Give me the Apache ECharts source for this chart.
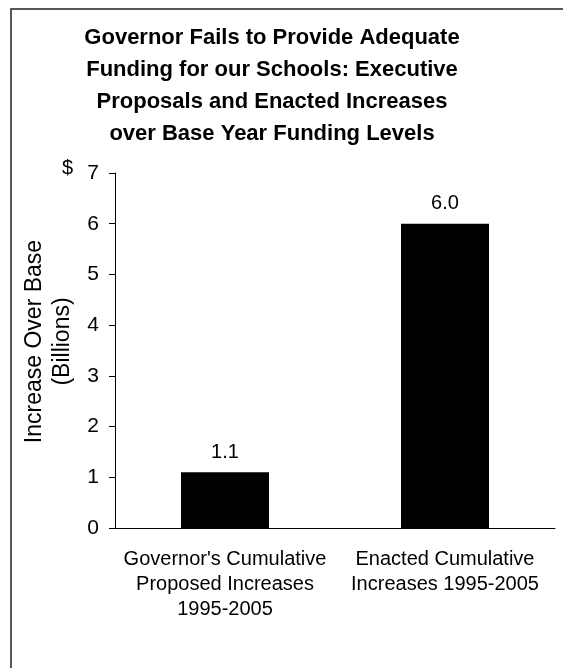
<!DOCTYPE html>
<html>
<head>
<meta charset="utf-8">
<script src="https://cdn.jsdelivr.net/npm/echarts@6/dist/echarts.min.js"></script>
<style>
  html, body { margin: 0; padding: 0; background: #fff; }
  #chart { width: 563px; height: 668px; }
</style>
</head>
<body>
<div id="chart"></div>
<script>
const categories = [
  "Governor's Cumulative\nProposed Increases\n1995-2005",
  'Enacted Cumulative\nIncreases 1995-2005'
];
const increases = [1.1, 6.0];
const titleText = 'Governor Fails to Provide Adequate\nFunding for our Schools: Executive\nProposals and Enacted Increases\nover Base Year Funding Levels';

const font = '"Liberation Sans", Arial, sans-serif';

const chart = echarts.init(document.getElementById('chart'), null, { renderer: 'canvas' });

const option = {
  backgroundColor: '#fff',
  animation: false,
  title: {
    text: titleText,
    left: 272,
    top: 22,
    padding: 0,
    textAlign: 'center',
    textStyle: {
      fontFamily: font,
      fontSize: 22,
      fontWeight: 'bold',
      color: '#000',
      lineHeight: 32
    }
  },
  grid: {
    left: 115,
    right: 8,
    top: 173,
    bottom: 140
  },
  xAxis: {
    type: 'category',
    data: categories,
    axisLine: { lineStyle: { color: '#000', width: 1 } },
    axisTick: { length: 6, lineStyle: { color: '#000' } },
    axisLabel: {
      interval: 0,
      margin: 19,
      fontFamily: font,
      fontSize: 20,
      lineHeight: 25,
      color: '#000'
    }
  },
  yAxis: {
    type: 'value',
    min: 0,
    max: 7,
    interval: 1,
    name: 'Increase Over Base\n(Billions)',
    nameLocation: 'middle',
    nameGap: 31,
    nameTextStyle: {
      fontFamily: font,
      fontSize: 23,
      lineHeight: 28,
      color: '#000',
      padding: [0, 0, 0, 18]
    },
    axisLine: { show: true, lineStyle: { color: '#000', width: 1 } },
    axisTick: { show: true, length: 6, lineStyle: { color: '#000' } },
    splitLine: { show: false },
    axisLabel: {
      margin: 16,
      fontFamily: font,
      fontSize: 21,
      color: '#000'
    }
  },
  series: [{
    type: 'bar',
    data: increases,
    barWidth: '40%',
    itemStyle: { color: '#000' },
    label: {
      show: true,
      position: 'top',
      distance: 10,
      formatter: p => p.value.toFixed(1),
      fontFamily: font,
      fontSize: 20,
      color: '#000'
    }
  }],
  graphic: [
    {
      type: 'rect',
      shape: { x: 11, y: 9, width: 700, height: 800 },
      style: { fill: 'none', stroke: '#222', lineWidth: 1.5 },
      silent: true
    },
    {
      type: 'text',
      x: 62,
      y: 158,
      style: {
        text: '$',
        fontFamily: font,
        fontSize: 20,
        fill: '#000'
      }
    }
  ]
};

chart.setOption(option);
</script>
</body>
</html>
